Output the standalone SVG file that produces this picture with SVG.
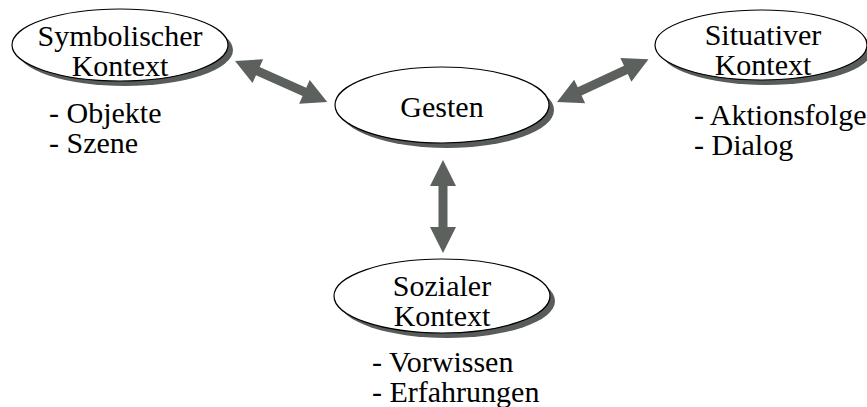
<svg xmlns="http://www.w3.org/2000/svg" width="867" height="407" viewBox="0 0 867 407">
<style>
.shadow{fill:#585d5a}
.node{fill:#fff;stroke:#000;stroke-width:1.2}
.t{font-family:"Liberation Serif","Times New Roman",serif;font-size:30px;fill:#000}
.c{text-anchor:middle}
.arrow{fill:#5c615e}
</style>
<defs>
<path id="darrow" d="M0,0 L25,-13 L25,-4.5 L76,-4.5 L76,-13 L101,0 L76,13 L76,4.5 L25,4.5 L25,13 Z"/>
</defs>
<rect width="867" height="407" fill="#fff"/>
<g id="connectors" class="arrow">
<use href="#darrow" transform="translate(235,61) rotate(24)"/>
<use href="#darrow" transform="translate(557,102) rotate(-25)"/>
<path d="M443,160 L430,186 L438.5,186 L438.5,227 L430,227 L443,253 L456,227 L447.5,227 L447.5,186 L456,186 Z"/>
</g>
<g id="symbolischer">
<ellipse class="shadow" cx="125" cy="50" rx="108" ry="36"/>
<ellipse class="node" cx="120" cy="45" rx="108" ry="36"/>
<text class="t c" x="120" y="46">Symbolischer</text>
<text class="t c" x="120" y="76">Kontext</text>
<text class="t" x="49" y="123">- Objekte</text>
<text class="t" x="49" y="153">- Szene</text>
</g>
<g id="situativer">
<ellipse class="shadow" cx="766" cy="50" rx="106" ry="35"/>
<ellipse class="node" cx="761" cy="45" rx="106" ry="35"/>
<text class="t c" x="763" y="45">Situativer</text>
<text class="t c" x="763" y="75">Kontext</text>
<text class="t" x="694" y="125">- Aktionsfolge</text>
<text class="t" x="694" y="155">- Dialog</text>
</g>
<g id="gesten">
<ellipse class="shadow" cx="447" cy="110" rx="107" ry="38"/>
<ellipse class="node" cx="442" cy="105" rx="107" ry="38"/>
<text class="t c" x="442" y="117">Gesten</text>
</g>
<g id="sozialer">
<ellipse class="shadow" cx="447" cy="301" rx="108" ry="37"/>
<ellipse class="node" cx="442" cy="296" rx="108" ry="37"/>
<text class="t c" x="442" y="296">Sozialer</text>
<text class="t c" x="442" y="326">Kontext</text>
<text class="t" x="372" y="372">- Vorwissen</text>
<text class="t" x="372" y="402">- Erfahrungen</text>
</g>
</svg>
